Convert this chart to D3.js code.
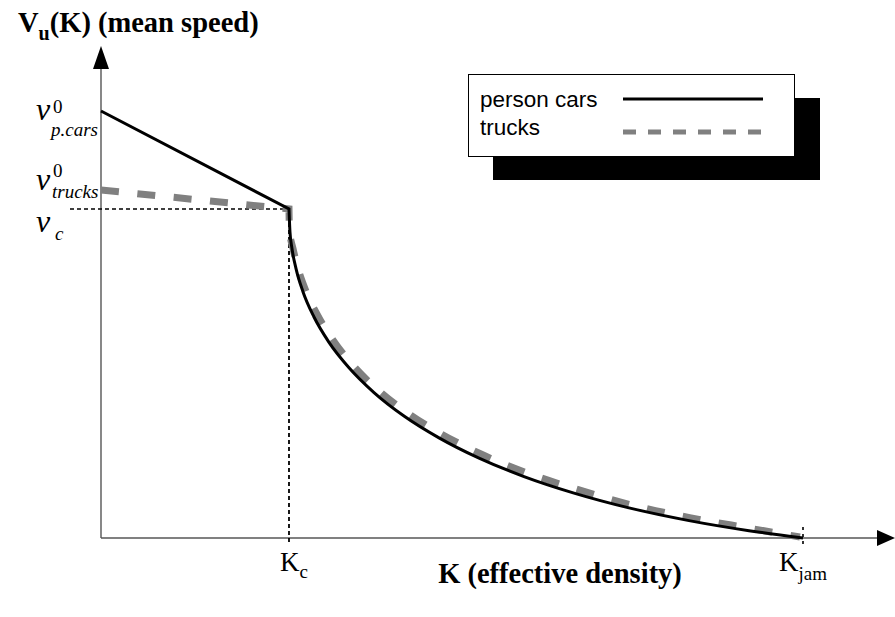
<!DOCTYPE html>
<html>
<head>
<meta charset="utf-8">
<script src="https://cdn.jsdelivr.net/npm/d3@7"></script>
<style>
  html, body { margin: 0; padding: 0; background: #fff; }
  svg { display: block; }
</style>
</head>
<body>
<svg id="chart" width="895" height="617"></svg>
<script>
// ---- data (K as fraction of K_jam, V as fraction of v0 of person cars) ----
const carsK = [0, 0.2678, 0.2692, 0.2721, 0.2778, 0.2877, 0.3034, 0.3248, 0.3533, 0.3889, 0.4316, 0.4815, 0.5385, 0.6026, 0.6738, 0.7521, 0.8376, 0.9231, 1.000];
const carsV = [1.000, 0.7705, 0.7166, 0.6775, 0.6309, 0.5768, 0.5176, 0.4583, 0.3988, 0.3407, 0.2857, 0.2346, 0.1871, 0.1438, 0.1051, 0.0705, 0.0407, 0.0171, 0.000];
const trucksK = [0, 0.2678, 0.2684, 0.2735, 0.2805, 0.2917, 0.3085, 0.3301, 0.3581, 0.3932, 0.4353, 0.4846, 0.5412, 0.6048, 0.6756, 0.7533, 0.8385, 0.9236, 0.9957];
const trucksV = [0.815, 0.7705, 0.7213, 0.678, 0.6321, 0.5792, 0.5218, 0.4642, 0.4059, 0.3487, 0.2944, 0.2438, 0.1967, 0.1536, 0.1152, 0.0785, 0.0478, 0.0230, 0.0023];
const seriesNames = ["person cars", "trucks"];
const Kc = 0.2678, Kjam = 1.0, vc = 0.7705;
const yTickLabels = [
  { value: 1.000, main: "v", sup: "0", sub: "p.cars" },
  { value: 0.815, main: "v", sup: "0", sub: "trucks" },
  { value: 0.7705, main: "v", sup: "", sub: "c" }
];
const xTickLabels = [
  { value: Kc,   main: "K", sub: "c" },
  { value: Kjam, main: "K", sub: "jam" }
];
const yTitle = { main: "V", sub: "u", rest: "(K) (mean speed)" };
const xTitle = "K (effective density)";

// ---- scales ----
const x = d3.scaleLinear().domain([0, 1]).range([101, 803]);
const y = d3.scaleLinear().domain([0, 1]).range([538, 111]);
const svg = d3.select("#chart");
const serif = "'Liberation Serif', 'Times New Roman', serif";
const sans = "'Liberation Sans', Arial, Helvetica, sans-serif";

// ---- axes ----
const x0 = x(0), y0 = y(0);
svg.append("line").attr("x1", x0).attr("y1", y0).attr("x2", 878).attr("y2", y0)
  .attr("stroke", "#808080").attr("stroke-width", 1.8);
svg.append("line").attr("x1", x0).attr("y1", y0).attr("x2", x0).attr("y2", 67)
  .attr("stroke", "#555").attr("stroke-width", 1.4);
svg.append("path").attr("d", `M${x0},46 L${x0 - 8},69 L${x0 + 8},69 Z`).attr("fill", "#000");
svg.append("path").attr("d", `M895,${y0} L877,${y0 - 8} L877,${y0 + 8} Z`).attr("fill", "#000");

// ---- reference dotted lines ----
svg.append("line").attr("x1", 70).attr("x2", x(Kc)).attr("y1", y(vc)).attr("y2", y(vc))
  .attr("stroke", "#000").attr("stroke-width", 1.6).attr("stroke-dasharray", "4,3");
svg.append("line").attr("x1", x(Kc)).attr("x2", x(Kc)).attr("y1", y(vc)).attr("y2", y0 + 7)
  .attr("stroke", "#000").attr("stroke-width", 1.8).attr("stroke-dasharray", "4,3");
svg.append("line").attr("x1", x(Kjam)).attr("x2", x(Kjam)).attr("y1", y0 - 11).attr("y2", y0 + 10)
  .attr("stroke", "#000").attr("stroke-width", 1.6).attr("stroke-dasharray", "3,4");

// ---- curves: straight segment up to Kc, then smooth curve ----
function seriesPath(ks, vs) {
  const pts = ks.map((k, i) => [x(k), y(vs[i])]);
  const straight = d3.line().curve(d3.curveLinear)(pts.slice(0, 2));
  const curved = d3.line().curve(d3.curveMonotoneX)(pts.slice(1));
  return straight + curved.replace(/^M/, "L");
}
svg.append("path").attr("d", seriesPath(trucksK, trucksV))
  .attr("fill", "none").attr("stroke", "#808080").attr("stroke-width", 7)
  .attr("stroke-dasharray", "18,18.5");
svg.append("path").attr("d", seriesPath(carsK, carsV))
  .attr("fill", "none").attr("stroke", "#000").attr("stroke-width", 3);

// ---- y tick labels ----
const yOff = [
  { dy: 9,  supDy: -7,  subDy: 16, subX: 51 },
  { dy: 0,  supDy: -13, subDy: 8,  subX: 52 },
  { dy: 23, supDy: 0,   subDy: 8,  subX: 55 }
];
yTickLabels.forEach((t, i) => {
  const base = y(t.value) + yOff[i].dy;
  svg.append("text").attr("x", 36).attr("y", base).text(t.main)
    .attr("font-family", serif).attr("font-style", "italic").attr("font-size", 32);
  if (t.sup) svg.append("text").attr("x", 53).attr("y", base + yOff[i].supDy).text(t.sup)
    .attr("font-family", serif).attr("font-size", 19);
  svg.append("text").attr("x", yOff[i].subX).attr("y", base + yOff[i].subDy).text(t.sub)
    .attr("font-family", serif).attr("font-style", "italic").attr("font-size", 19);
});

// ---- x tick labels ----
const xOff = [-9, -24];
xTickLabels.forEach((t, i) => {
  const tx = svg.append("text").attr("x", x(t.value) + xOff[i]).attr("y", 571)
    .attr("font-family", serif).attr("font-size", 27);
  tx.append("tspan").text(t.main);
  tx.append("tspan").attr("dy", i === 0 ? 7 : 9).attr("font-size", 19).text(t.sub);
});

// ---- titles ----
const yt = svg.append("text").attr("x", 18).attr("y", 32)
  .attr("font-family", serif).attr("font-weight", "bold").attr("font-size", 28.5);
yt.append("tspan").text(yTitle.main);
yt.append("tspan").attr("dy", 8).attr("font-size", 20).text(yTitle.sub);
yt.append("tspan").attr("dy", -8).text(yTitle.rest);

svg.append("text").attr("x", 560).attr("y", 583).attr("text-anchor", "middle")
  .attr("font-family", serif).attr("font-weight", "bold").attr("font-size", 28.5).text(xTitle);

// ---- legend ----
const lg = svg.append("g");
lg.append("rect").attr("x", 493).attr("y", 98).attr("width", 327).attr("height", 82).attr("fill", "#000");
lg.append("rect").attr("x", 468.5).attr("y", 74.5).attr("width", 326).attr("height", 82)
  .attr("fill", "#fff").attr("stroke", "#000").attr("stroke-width", 1);
lg.append("text").attr("x", 480).attr("y", 107).attr("font-family", sans).attr("font-size", 22.5).text(seriesNames[0]);
lg.append("text").attr("x", 480).attr("y", 135).attr("font-family", sans).attr("font-size", 22.5).text(seriesNames[1]);
lg.append("line").attr("x1", 623).attr("x2", 763).attr("y1", 99).attr("y2", 99)
  .attr("stroke", "#000").attr("stroke-width", 3);
lg.append("line").attr("x1", 623).attr("x2", 762).attr("y1", 132).attr("y2", 132)
  .attr("stroke", "#808080").attr("stroke-width", 5).attr("stroke-dasharray", "13,12");
</script>
</body>
</html>
